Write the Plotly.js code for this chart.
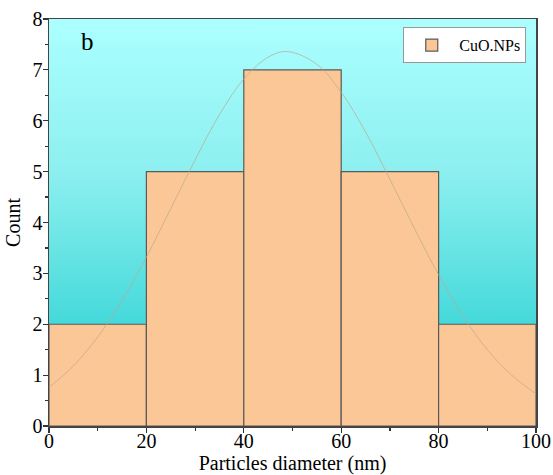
<!DOCTYPE html>
<html>
<head>
<meta charset="utf-8">
<script src="https://cdn.plot.ly/plotly-3.0.1.min.js"></script>
<style>html,body{margin:0;padding:0;background:#fff;}#chart{width:553px;height:475px;}</style>
</head>
<body>
<div id="chart"></div>
<script>
// Histogram bins (nm) and counts
const binCenters = [10, 30, 50, 70, 90];
const counts = [2, 5, 7, 5, 2];
const seriesName = "CuO.NPs";
// Fitted distribution curve
const curveX = [0, 5, 10, 15, 20, 25, 30, 35, 40, 45, 49, 55, 60, 65, 70, 75, 80, 85, 90, 95, 100];
const curveY = [0.76, 1.18, 1.75, 2.47, 3.32, 4.27, 5.23, 6.12, 6.82, 7.25, 7.36, 7.11, 6.56, 5.78, 4.85, 3.89, 2.97, 2.16, 1.50, 1.00, 0.63];
// Axis settings
const xRange = [0, 100];
const yRange = [0, 8];
const panelLabel = "b";

const font = "Liberation Serif";

const bg = {
  type: 'scatter', x: [xRange[0], xRange[1], xRange[1], xRange[0], xRange[0]],
  y: [yRange[0], yRange[0], yRange[1], yRange[1], yRange[0]],
  mode: 'none', fill: 'toself',
  fillgradient: {type: 'vertical', colorscale: [[0, '#2CD0D1'], [0.25, '#45D9DA'], [0.62, '#8CEFEF'], [1, '#ACFFFF']]},
  hoverinfo: 'skip', showlegend: false, xaxis: 'x', yaxis: 'y'
};
const bars = {
  type: 'bar', x: binCenters, y: counts, width: 20, name: seriesName,
  marker: {color: '#FBC797', line: {color: '#5a5a5a', width: 1.2}},
  xaxis: 'x2', yaxis: 'y2'
};
const curve = {
  type: 'scatter', mode: 'lines', x: curveX, y: curveY,
  line: {color: 'rgba(185,170,140,0.7)', width: 1, shape: 'spline'},
  hoverinfo: 'skip', showlegend: false, xaxis: 'x2', yaxis: 'y2'
};

const layout = {
  width: 553, height: 475,
  margin: {l: 49, r: 17, t: 19, b: 49},
  paper_bgcolor: '#fff', plot_bgcolor: 'rgba(0,0,0,0)',
  font: {family: font, color: '#000', size: 20},
  showlegend: true,
  bargap: 0,
  xaxis: {
    range: xRange, dtick: 20, ticks: 'outside', ticklen: 5, tickwidth: 1.2, tickcolor: '#333',
    minor: {dtick: 10, ticks: 'outside', ticklen: 3, tickcolor: '#333'},
    showline: true, linecolor: '#444', linewidth: 1.5, mirror: true, showgrid: false, zeroline: false,
    tickfont: {size: 20, family: font}, ticklabelstandoff: -9,
    title: {text: 'Particles diameter (nm)', font: {size: 20, family: font}, standoff: 9}
  },
  yaxis: {
    range: yRange, dtick: 1, ticks: 'outside', ticklen: 5, tickwidth: 1.2, tickcolor: '#333',
    minor: {dtick: 0.5, ticks: 'outside', ticklen: 3, tickcolor: '#333'},
    showline: true, linecolor: '#444', linewidth: 1.5, mirror: true, showgrid: false, zeroline: false,
    tickfont: {size: 20, family: font}, ticklabelstandoff: -4,
    title: {text: 'Count', font: {size: 20, family: font}, standoff: 6}
  },
  xaxis2: {range: xRange, overlaying: 'x', visible: false},
  yaxis2: {range: yRange, overlaying: 'y', visible: false},
  legend: {
    x: 0.98, y: 0.98, xanchor: 'right', yanchor: 'top',
    bgcolor: '#fff', bordercolor: '#999', borderwidth: 1,
    itemwidth: 45,
    font: {size: 16, family: font}
  },
  annotations: [{
    text: panelLabel, xref: 'x', yref: 'y', x: 8, y: 7.55, showarrow: false,
    font: {size: 25, family: font}
  }]
};

Plotly.newPlot('chart', [bg, bars, curve], layout, {displayModeBar: false, staticPlot: true});
</script>
</body>
</html>
